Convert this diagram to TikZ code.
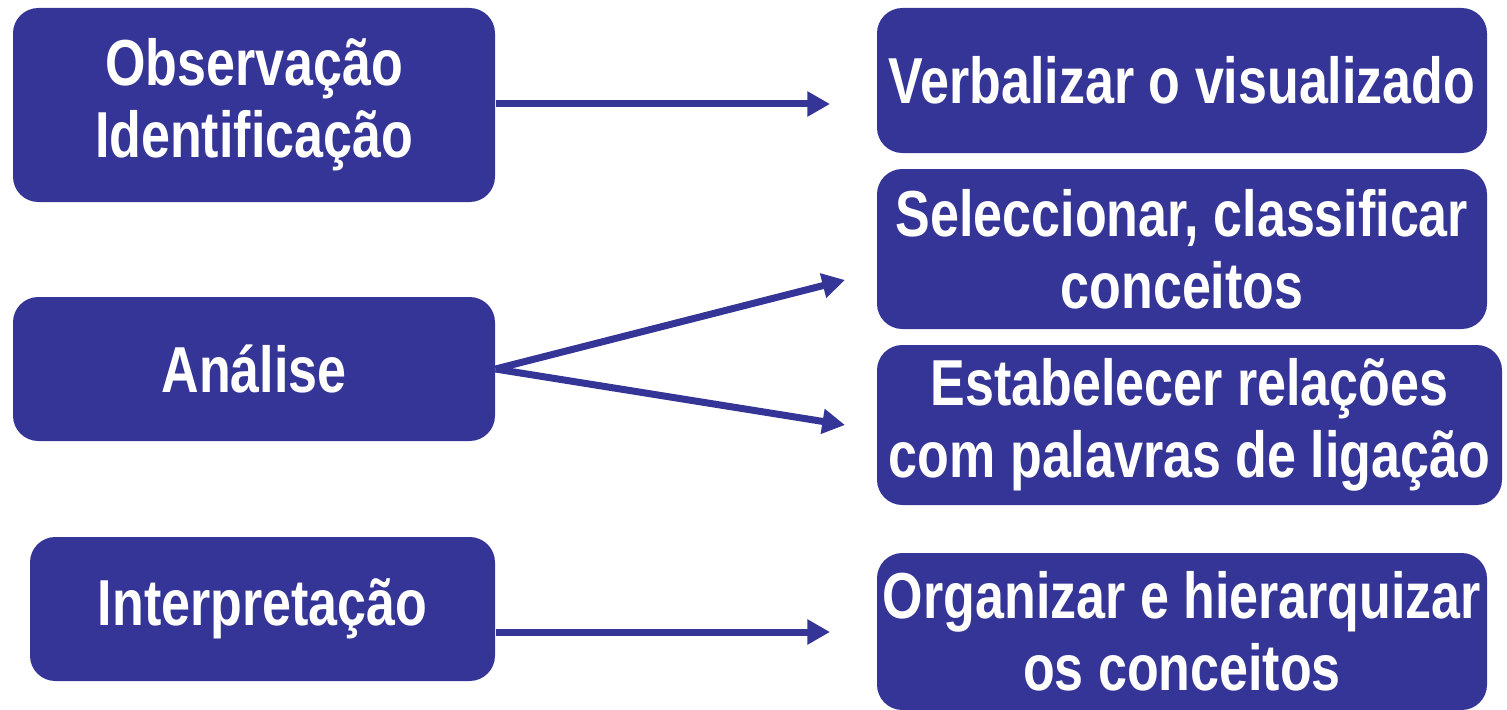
\documentclass[tikz,border=0pt]{standalone}
\usepackage{fontspec}
\setmainfont{Liberation Sans}[FakeStretch=0.8]
\usetikzlibrary{arrows.meta}

\definecolor{boxblue}{RGB}{53,53,152}

\tikzset{every picture/.style={line width=0.75pt}}
\tikzset{
  stage/.style={rectangle, rounded corners=19pt, fill=boxblue, draw=none,
    text=white, align=center, inner sep=1pt,
    font=\fontsize{48.75}{54}\selectfont\bfseries},
  link/.style={draw=boxblue, line width=5.25pt,
    -{Triangle[length=17pt,width=18pt]}}
}

\begin{document}
\begin{tikzpicture}[x=0.75pt,y=0.75pt,yscale=-1,xscale=1]
\useasboundingbox (0,0) rectangle (1507,710);

% left column
\node (obs) [stage, minimum width=361.5pt, minimum height=145.5pt] at (254,105) {Observação\\Identificação};
\node (ana) [stage, minimum width=361.5pt, minimum height=108pt] at (254,369) {Análise};
\node (int) [stage, minimum width=348.75pt, minimum height=108pt] at (262.5,609) {Interpretação};

% right column
\node (verb) [stage, minimum width=457.5pt, minimum height=108.75pt] at (1182,80.5) {Verbalizar o visualizado};
\node (sel) [stage, minimum width=457.5pt, minimum height=120pt] at (1182,249) {Seleccionar, classificar\\conceitos};
\node (est) [stage, minimum width=468.75pt, minimum height=120pt] at (1189.5,425) {Estabelecer relações\\com palavras de ligação};
\node (org) [stage, minimum width=457.5pt, minimum height=117.75pt] at (1182,631.5) {Organizar e hierarquizar\\os conceitos};

% arrow tips
\coordinate (toverb) at (830,104);
\coordinate (tosel) at (845,280);
\coordinate (toest) at (845,425);
\coordinate (toorg) at (830,632);

\draw [link] (obs.east |- toverb) -- (toverb);
\draw [link] (ana.east) -- (tosel);
\draw [link] (ana.east) -- (toest);
\draw [link] (int.east |- toorg) -- (toorg);

\end{tikzpicture}
\end{document}
